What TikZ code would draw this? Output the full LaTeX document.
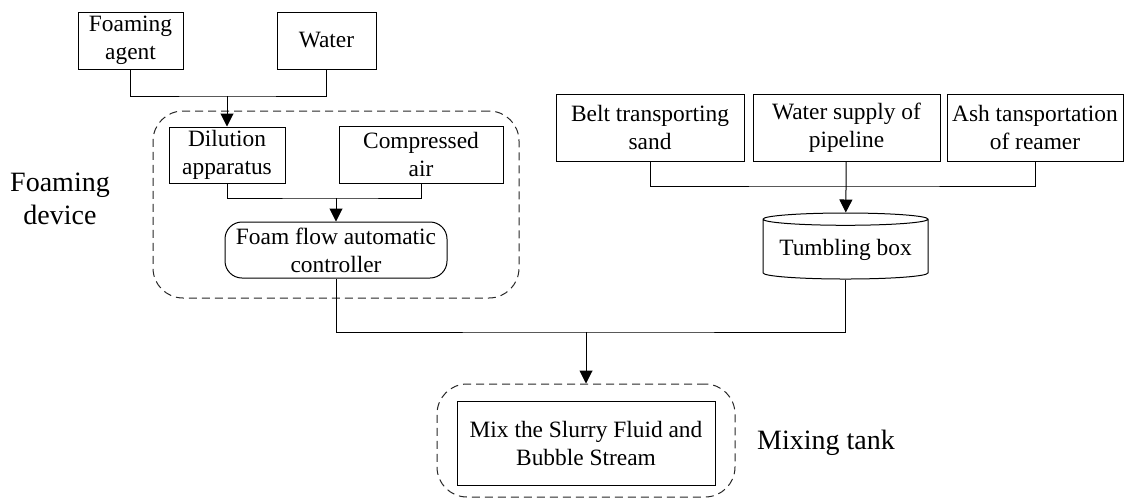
\documentclass[tikz,border=0pt]{standalone}
\usepackage{fontspec}
\setmainfont{Liberation Serif}
\usetikzlibrary{arrows.meta,positioning,shapes.geometric}

\begin{document}
\begin{tikzpicture}[x=1pt, y=-1pt,
  box/.style={draw, line width=1pt, align=center, inner sep=2pt, font=\fontsize{23.4}{28}\selectfont},
  rbox/.style={box, rounded corners=17pt},
  tank/.style={box, cylinder, shape border rotate=90, aspect=0.09},
  grp/.style={draw, black!85, dash pattern=on 8pt off 5pt, line width=1pt, rounded corners=30pt},
  sidetext/.style={align=center, font=\fontsize{28}{33}\selectfont},
  wire/.style={line width=1pt},
  arr/.style={-{Triangle[length=13pt, width=13pt]}, line width=1pt}
]
  \useasboundingbox (0,0) rectangle (1127,499);

  \node[box, minimum width=105pt, minimum height=57pt] (fagent) at (130.5,40.5) {Foaming\\agent};
  \node[box, minimum width=99pt, minimum height=57pt] (water) at (326.5,40.5) {Water};
  \node[box, minimum width=116pt, minimum height=56pt] (dilution) at (227,155) {Dilution\\apparatus};
  \node[box, minimum width=164pt, minimum height=57pt] (air) at (421,154.5) {Compressed\\air};
  \node[rbox, minimum width=222pt, minimum height=56pt] (ctrl) at (336,250) {Foam flow automatic\\controller};
  \node[grp, minimum width=366pt, minimum height=187pt] (foamgrp) at (336,204.5) {};
  \node[sidetext] (foamlbl) at (60,199) {Foaming\\device};

  \node[box, minimum width=188pt, minimum height=67pt] (belt) at (650,127.5) {Belt transporting\\sand};
  \node[box, minimum width=187pt, minimum height=67pt, right=8pt of belt] (supply) {Water supply of\\pipeline};
  \node[box, minimum width=176pt, minimum height=67pt, right=6pt of supply] (ash) {Ash tansportation\\of reamer};
  \node[tank, minimum width=165pt, minimum height=66pt] (tumble) at (845.5,250) {Tumbling box};

  \node[box, minimum width=258pt, minimum height=84pt] (mix) at (586,443) {Mix the Slurry Fluid and\\Bubble Stream};
  \node[grp, minimum width=298pt, minimum height=113pt] (mixgrp) at (586,440.5) {};
  \node[sidetext] (mixlbl) at (826,443) {Mixing tank};

  \coordinate (j1) at (227,96);
  \coordinate (j2) at (336,198);
  \coordinate (j3) at (845.5,186);
  \coordinate (j4) at (586,332);

  \draw[wire] (fagent) |- (j1) -| (water);
  \draw[arr] (j1) -- (dilution);
  \draw[wire] (dilution) |- (j2) -| (air);
  \draw[arr] (j2) -- (ctrl);
  \draw[wire] (belt) |- (j3) -| (ash);
  \draw[arr] (supply) -- (tumble);
  \draw[wire] (ctrl) |- (j4) -| (tumble);
  \draw[arr] (j4) -- (mixgrp);
\end{tikzpicture}
\end{document}
